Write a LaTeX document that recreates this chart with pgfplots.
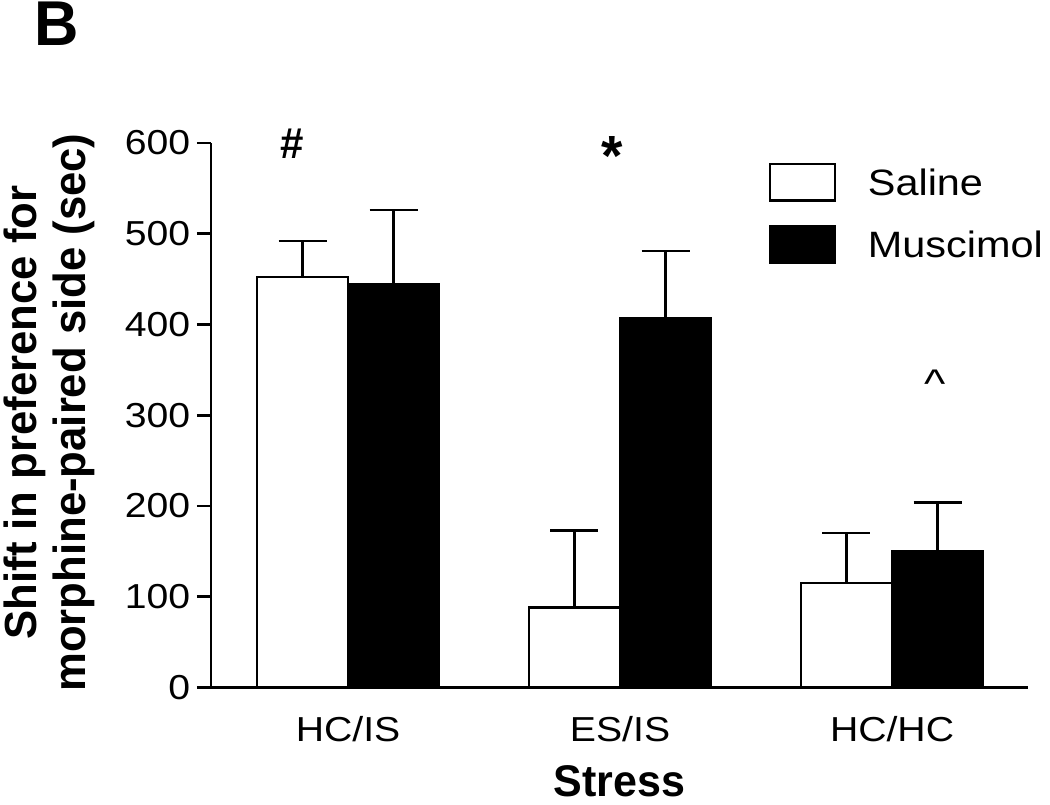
\documentclass[border=0pt]{standalone}
\usepackage{fontspec}
\setmainfont{Liberation Sans}[FakeStretch=1.13]
\newfontfamily\labfont{Liberation Sans}[FakeStretch=0.97]
\usepackage{pgfplots}
\usepackage{pgfplotstable}
\pgfplotsset{compat=1.18}
\usetikzlibrary{calc}

% group  saline  sem  muscimol  sem
\pgfplotstableread{
x sal salerr mus muserr
0 452 40 444 82
1 88  85 407 74
2 115 55 150 54
}\shiftdata

\begin{document}
\begin{tikzpicture}
\begin{axis}[
  name=ax,
  scale only axis,
  width=245.1pt, height=163.35pt,
  ybar,
  xmin=-0.504, xmax=2.5,
  ymin=0, ymax=600,
  clip=false,
  axis x line*=bottom, axis y line*=left,
  axis line style={-, line width=0.8pt},
  ytick={0,100,...,600},
  xtick={0,1,2},
  xticklabels={HC/IS,ES/IS,HC/HC},
  xtick style={draw=none},
  ytick style={line width=0.8pt, black},
  tick align=outside,
  major tick length=4.2pt,
  /pgf/number format/assume math mode=true,
  tick label style={font=\fontsize{10.4}{12}\selectfont},
  xticklabel style={yshift=-1pt},
  yticklabel style={xshift=1.5pt},
  ylabel={Shift in preference for\\morphine-paired side (sec)},
  ylabel style={align=center, font=\labfont\bfseries\fontsize{13.5}{14.5}\selectfont,
    at={(axis description cs:-0.198,0.505)}, anchor=center},
  xlabel={Stress},
  xlabel style={font=\labfont\bfseries\fontsize{13.3}{15}\selectfont,
    at={(axis description cs:0.5,-0.172)}, anchor=center},
  legend style={draw=none, fill=none, at={(axis description cs:0.682,0.965)},
    anchor=north west, inner sep=0pt, row sep=7pt,
    font=\fontsize{11}{13}\selectfont,
    nodes={inner sep=0pt, text depth=0pt}},
  legend cell align=left,
  /tikz/every odd column/.append style={column sep=9.5pt},
  legend image code/.code={\draw[#1, line width=0.7pt] (0pt,-5.5pt) rectangle (19.5pt,5.5pt);},
  error bars/y dir=plus,
  error bars/y explicit,
  error bars/error bar style={line width=0.7pt, black},
  error bars/error mark options={line width=0.7pt, black, mark size=7.2pt, rotate=90},
]
\addplot[bar width=0.335, bar shift=-0.1675, fill=white, draw=black, line width=0.7pt]
  table[x=x, y=sal, y error=salerr] {\shiftdata};
\addplot[bar width=0.335, bar shift=0.1675, fill=black, draw=black, line width=0.7pt]
  table[x=x, y=mus, y error=muserr] {\shiftdata};
\legend{Saline, Muscimol}
\node[anchor=north, inner sep=0pt, font=\labfont\bfseries\fontsize{13}{13}\selectfont] at (axis cs:-0.206,616) {\#};
\node[anchor=north, inner sep=0pt, font=\labfont\bfseries\fontsize{17}{17}\selectfont] at (axis cs:0.971,608) {*};
\node[anchor=north, inner sep=0pt, font=\fontsize{12}{12}\selectfont] at (axis cs:2.158,351) {\textasciicircum};
\end{axis}
\node[font=\labfont\bfseries\fontsize{19}{19}\selectfont, anchor=center] at ($(ax.south west)+(-46.3pt,199pt)$) {B};
\pgfresetboundingbox
\path[use as bounding box] ($(ax.south west)+(-63.3pt,-34.95pt)$) rectangle ($(ax.south west)+(251.7pt,206.25pt)$);
\end{tikzpicture}
\end{document}
